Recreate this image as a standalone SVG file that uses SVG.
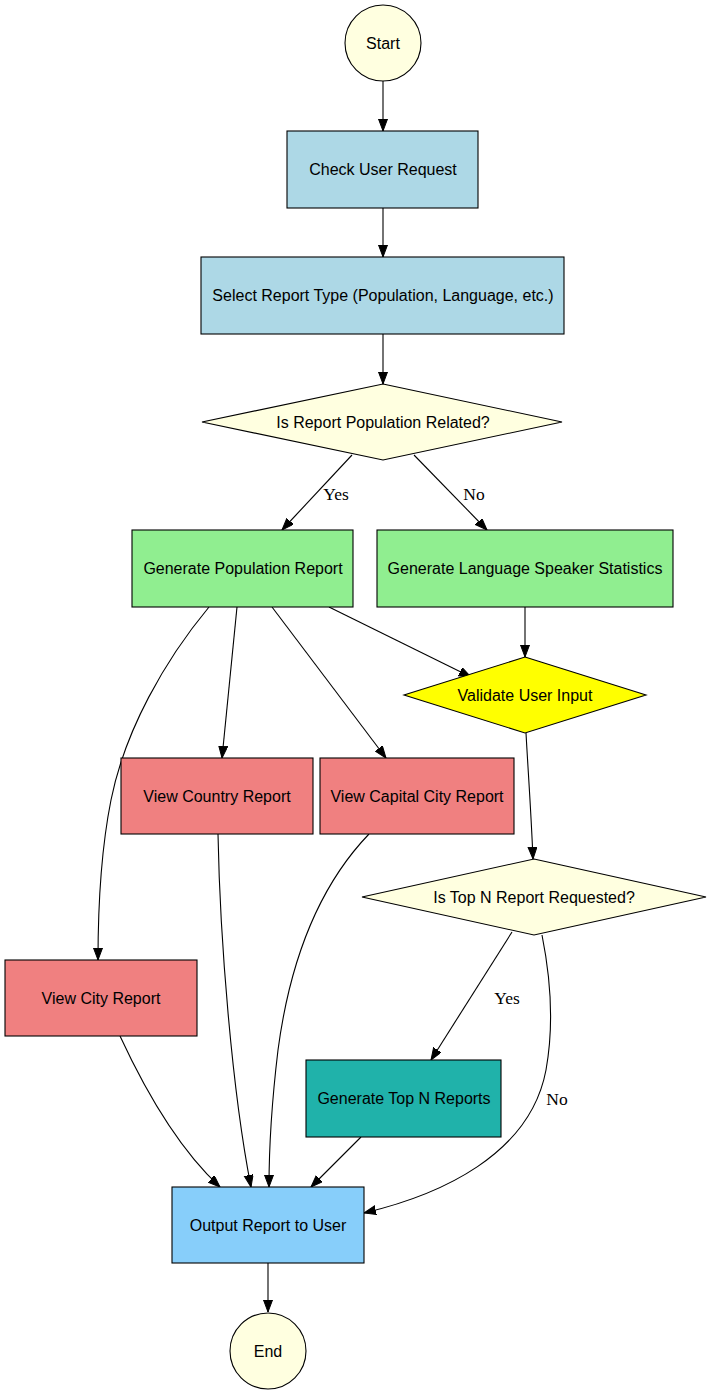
<svg xmlns="http://www.w3.org/2000/svg" width="713" height="1395" viewBox="0 0 713 1395">
<defs>
<style>
.n{stroke:#000;stroke-width:1.1}
.t{font-family:"Liberation Sans",Arial,sans-serif;font-size:16px;text-anchor:middle;dominant-baseline:central;fill:#000}
.l{font-family:"Liberation Serif","Times New Roman",serif;font-size:17.5px;text-anchor:middle;dominant-baseline:central;fill:#000}
.e{fill:none;stroke:#000;stroke-width:1.1;marker-end:url(#a)}
</style>
<marker id="a" markerUnits="userSpaceOnUse" markerWidth="13" markerHeight="10" refX="12" refY="4.5" orient="auto">
<path d="M0,0 L12,4.5 L0,9 z" fill="#000" stroke="#000" stroke-width="1"/>
</marker>
</defs>
<rect width="713" height="1395" fill="#fff"/>
<g id="connectors">
<path class="e" d="M383,81 L383,131"/>
<path class="e" d="M383,208 L383,257"/>
<path class="e" d="M383,334 L383,384"/>
<path class="e" d="M352,455 L282,530"/>
<path class="e" d="M414,455 L487,530"/>
<path class="e" d="M329,607 L471,677"/>
<path class="e" d="M525,607 L525,657"/>
<path class="e" d="M237,607 L222,758"/>
<path class="e" d="M272,607 L386,758"/>
<path class="e" d="M209,607 C165,660 125,730 111,800 C100,855 98,910 98,960"/>
<path class="e" d="M526,733 C528,770 531,810 533,859"/>
<path class="e" d="M512,932 L431,1060"/>
<path class="e" d="M542,935 C550,975 555,1020 546,1070 C530,1155 440,1195 364,1213"/>
<path class="e" d="M361,1137 L311,1187"/>
<path class="e" d="M120,1036 C145,1090 180,1150 220,1187"/>
<path class="e" d="M218,834 C220,940 232,1090 251,1187"/>
<path class="e" d="M369,834 C320,885 290,960 278,1050 C272,1100 269,1150 269,1187"/>
<path class="e" d="M268,1263 L268,1312"/>
<text class="l" x="336" y="494">Yes</text>
<text class="l" x="474" y="494">No</text>
<text class="l" x="507" y="998">Yes</text>
<text class="l" x="557" y="1099">No</text>
</g>
<g id="start"><circle class="n" cx="383" cy="43" r="38" fill="#FFFFE0"/><text class="t" x="383" y="43">Start</text></g>
<g id="check"><rect class="n" x="287" y="131" width="191" height="77" fill="#ADD8E6"/><text class="t" x="383" y="169">Check User Request</text></g>
<g id="select"><rect class="n" x="201" y="257" width="363" height="77" fill="#ADD8E6"/><text class="t" x="383" y="295">Select Report Type (Population, Language, etc.)</text></g>
<g id="isPop"><polygon class="n" points="383,384 562,422 383,460 202,422" fill="#FFFFE0"/><text class="t" x="383" y="422">Is Report Population Related?</text></g>
<g id="genPop"><rect class="n" x="132" y="530" width="221" height="77" fill="#90EE90"/><text class="t" x="243" y="568">Generate Population Report</text></g>
<g id="genLang"><rect class="n" x="377" y="530" width="296" height="77" fill="#90EE90"/><text class="t" x="525" y="568">Generate Language Speaker Statistics</text></g>
<g id="validate"><polygon class="n" points="525,657 646,695 525,733 404,695" fill="#FFFF00"/><text class="t" x="525" y="695">Validate User Input</text></g>
<g id="viewCountry"><rect class="n" x="121" y="758" width="192" height="76" fill="#F08080"/><text class="t" x="217" y="796">View Country Report</text></g>
<g id="viewCapital"><rect class="n" x="320" y="758" width="194" height="76" fill="#F08080"/><text class="t" x="417" y="796">View Capital City Report</text></g>
<g id="isTopN"><polygon class="n" points="534,859 706,897 534,935 362,897" fill="#FFFFE0"/><text class="t" x="534" y="897">Is Top N Report Requested?</text></g>
<g id="viewCity"><rect class="n" x="5" y="960" width="192" height="76" fill="#F08080"/><text class="t" x="101" y="998">View City Report</text></g>
<g id="genTopN"><rect class="n" x="306" y="1060" width="195" height="77" fill="#20B2AA"/><text class="t" x="404" y="1098">Generate Top N Reports</text></g>
<g id="output"><rect class="n" x="172" y="1187" width="192" height="76" fill="#87CEFA"/><text class="t" x="268" y="1225">Output Report to User</text></g>
<g id="end"><circle class="n" cx="268" cy="1351" r="38" fill="#FFFFE0"/><text class="t" x="268" y="1351">End</text></g>
</svg>
